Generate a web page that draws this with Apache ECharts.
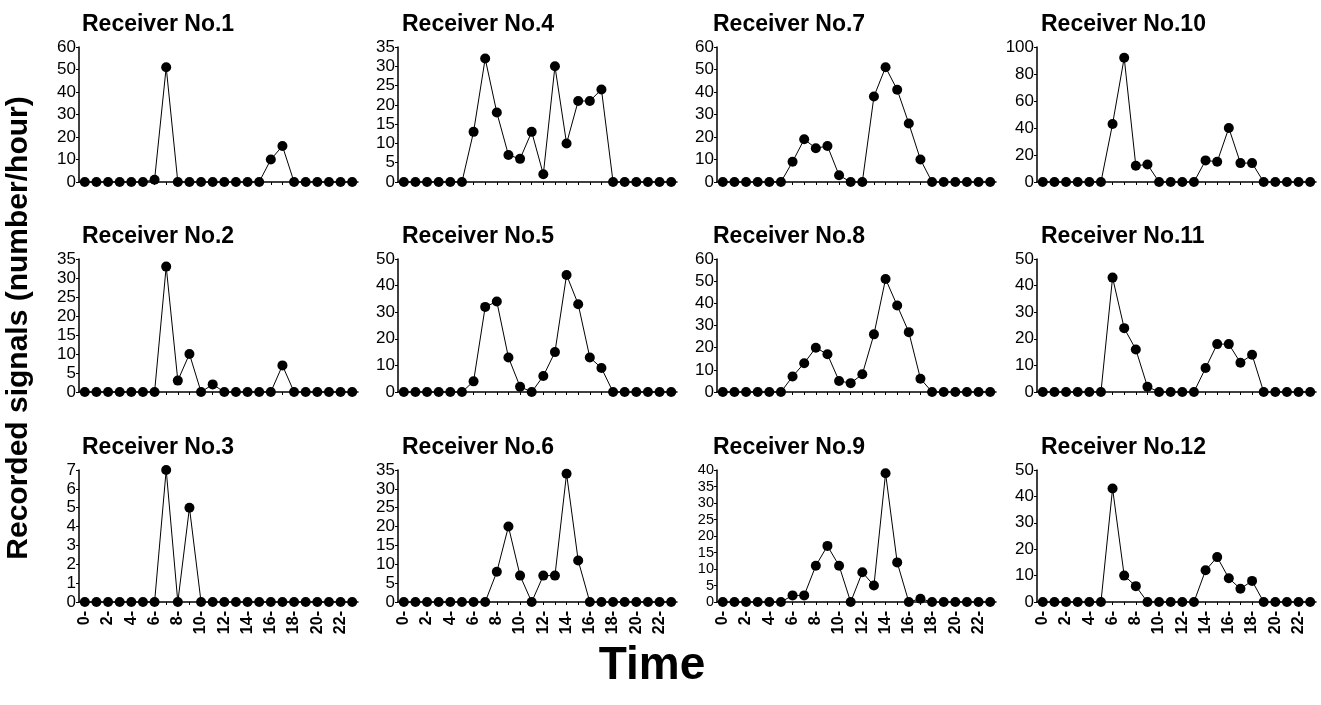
<!DOCTYPE html>
<html>
<head>
<meta charset="utf-8">
<script src="https://cdn.jsdelivr.net/npm/echarts@6/dist/echarts.min.js"></script>
<style>html,body{margin:0;padding:0;background:#fff}#c{width:1321px;height:705px}</style>
</head>
<body>
<div id="c"></div>
<script>
// ---- data ----
const hourLabels = ['0-','1-','2-','3-','4-','5-','6-','7-','8-','9-','10-','11-','12-','13-','14-','15-','16-','17-','18-','19-','20-','21-','22-','23-'];
const r1  = [0,0,0,0,0,0,1,51,0,0,0,0,0,0,0,0,10,16,0,0,0,0,0,0];
const r2  = [0,0,0,0,0,0,0,33,3,10,0,2,0,0,0,0,0,7,0,0,0,0,0,0];
const r3  = [0,0,0,0,0,0,0,7,0,5,0,0,0,0,0,0,0,0,0,0,0,0,0,0];
const r4  = [0,0,0,0,0,0,13,32,18,7,6,13,2,30,10,21,21,24,0,0,0,0,0,0];
const r5  = [0,0,0,0,0,0,4,32,34,13,2,0,6,15,44,33,13,9,0,0,0,0,0,0];
const r6  = [0,0,0,0,0,0,0,0,8,20,7,0,7,7,34,11,0,0,0,0,0,0,0,0];
const r7  = [0,0,0,0,0,0,9,19,15,16,3,0,0,38,51,41,26,10,0,0,0,0,0,0];
const r8  = [0,0,0,0,0,0,7,13,20,17,5,4,8,26,51,39,27,6,0,0,0,0,0,0];
const r9  = [0,0,0,0,0,0,2,2,11,17,11,0,9,5,39,12,0,1,0,0,0,0,0,0];
const r10 = [0,0,0,0,0,0,43,92,12,13,0,0,0,0,16,15,40,14,14,0,0,0,0,0];
const r11 = [0,0,0,0,0,0,43,24,16,2,0,0,0,0,9,18,18,11,14,0,0,0,0,0];
const r12 = [0,0,0,0,0,0,43,10,6,0,0,0,0,0,12,17,9,5,8,0,0,0,0,0];
const receivers = [r1,r2,r3,r4,r5,r6,r7,r8,r9,r10,r11,r12];
const titles = ['Receiver No.1','Receiver No.2','Receiver No.3','Receiver No.4','Receiver No.5','Receiver No.6','Receiver No.7','Receiver No.8','Receiver No.9','Receiver No.10','Receiver No.11','Receiver No.12'];
const yMax = [60,35,7,35,50,35,60,60,40,100,50,50];
const yStep = [10,5,1,5,10,5,10,10,5,20,10,10];
const yAxisTitle = 'Recorded signals (number/hour)';
const xAxisTitle = 'Time';

// ---- layout ----
const colLeft = [79, 398, 717, 1037];
const titleLeft = [77, 397, 708, 1036];
const plotW = 279;
const rowTop = [47, 259, 470];
const rowH = [135, 133, 132];
const FONT = '"Liberation Sans", Arial, Helvetica, sans-serif';

const grid = [], xAxis = [], yAxis = [], series = [], title = [];
for (let i = 0; i < 12; i++) {
  const c = Math.floor(i / 3), r = i % 3;
  const nTicks = yMax[i] / yStep[i];
  grid.push({left: colLeft[c], top: rowTop[r], width: plotW, height: rowH[r], containLabel: false});
  title.push({text: titles[i], left: titleLeft[c], top: rowTop[r] - 39,
    textStyle: {fontFamily: FONT, fontSize: 23, fontWeight: 'bold', color: '#000'}});
  xAxis.push({type: 'category', gridIndex: i, data: hourLabels, boundaryGap: true,
    axisLine: {lineStyle: {color: '#000', width: 1.5}},
    axisTick: {show: true, alignWithLabel: true, interval: 0, length: 3, lineStyle: {color: '#000'}},
    axisLabel: {show: r === 2, interval: 1, rotate: 90, margin: 9,
      fontFamily: FONT, fontSize: 16, fontWeight: 'bold', color: '#000'},
    splitLine: {show: false}});
  yAxis.push({type: 'value', gridIndex: i, min: 0, max: yMax[i], interval: yStep[i],
    axisLine: {show: true, lineStyle: {color: '#000', width: 1.5}},
    axisTick: {show: true, length: 3, lineStyle: {color: '#000'}},
    axisLabel: {margin: 3, fontFamily: FONT, fontSize: nTicks >= 8 ? 14.5 : 17, color: '#000', lineHeight: 14,
      showMinLabel: true, showMaxLabel: true, hideOverlap: false},
    splitLine: {show: false}});
  series.push({type: 'line', xAxisIndex: i, yAxisIndex: i, data: receivers[i],
    symbol: 'circle', symbolSize: 10, showSymbol: true, showAllSymbol: true, clip: false,
    lineStyle: {color: '#000', width: 1}, itemStyle: {color: '#000'}, animation: false});
}

const chart = echarts.init(document.getElementById('c'), null, {renderer: 'canvas'});
chart.setOption({
  animation: false,
  backgroundColor: '#fff',
  title, grid, xAxis, yAxis, series,
  graphic: [
    {type: 'text', x: 19, y: 328, rotation: Math.PI / 2,
      style: {text: yAxisTitle, font: 'bold 30px ' + FONT, fill: '#000', textAlign: 'center', textVerticalAlign: 'middle'}},
    {type: 'text', x: 652, y: 666,
      style: {text: xAxisTitle, font: 'bold 46px ' + FONT, fill: '#000', textAlign: 'center', textVerticalAlign: 'middle'}}
  ]
});
</script>
</body>
</html>
